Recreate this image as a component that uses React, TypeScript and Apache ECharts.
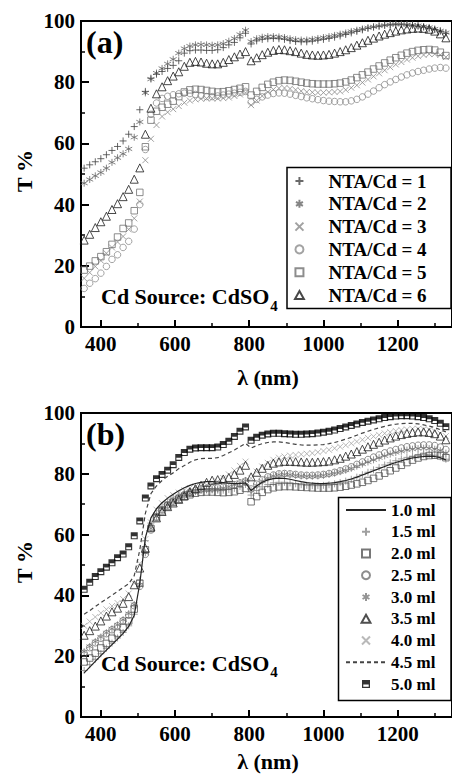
import React, { useEffect, useRef } from "react";
import * as echarts from "echarts";

// Wavelength sampling (nm); the detector change at ~800 nm gives the jump
const WAVELENGTH = [
  355, 370, 385, 400, 415, 430, 445, 460, 475, 490, 505, 520, 535, 550, 565, 580, 595, 610, 625, 640,
  655, 670, 685, 700, 715, 730, 745, 760, 775, 790,
  805, 820, 835, 850, 865, 880, 895, 910, 925, 940, 955, 970, 985, 1000, 1015, 1030, 1045, 1060, 1075, 1090,
  1105, 1120, 1135, 1150, 1165, 1180, 1195, 1210, 1225, 1240, 1255, 1270, 1285, 1300, 1315, 1330,
];

const X_MAJOR = [400, 600, 800, 1000, 1200];
const X_MINOR = [500, 700, 900, 1100, 1300];

// ---- Panel (a): NTA/Cd ratio ----
const NTA_1 = [
  51.9, 53, 54, 55, 56.3, 57.7, 59, 60.8, 63, 65.5, 71, 77, 81.3, 82.6, 83.5, 84.5, 85.5, 87, 89.5, 90.3,
  90.5, 90.5, 90.4, 90.4, 90.6, 91.3, 92.2, 93, 94.5, 96,
  92.5, 93.5, 94, 94.2, 94.3, 94.2, 94, 93.6, 93.3, 93.2, 93.2, 93.4, 93.7, 94, 94.3, 94.7, 95.1, 95.6, 96.1, 96.6,
  97.1, 97.6, 98, 98.3, 98.6, 98.8, 98.9, 98.9, 98.8, 98.6, 98.3, 98, 97.6, 97.2, 96.7, 96,
];
const NTA_2 = [
  47, 48.2, 49.4, 50.5, 51.9, 53.8, 55.3, 56.6, 58.2, 62, 67, 76.5, 81, 83, 84.5, 86, 87.5, 89.5, 91, 91.8,
  92.2, 92.3, 92.2, 92.1, 92.2, 92.6, 93.4, 94.3, 95.6, 97,
  93.3, 94.2, 94.7, 94.9, 94.9, 94.8, 94.6, 94.2, 93.9, 93.8, 93.8, 94, 94.3, 94.6, 94.9, 95.3, 95.7, 96.1, 96.6, 97,
  97.4, 97.8, 98.1, 98.4, 98.6, 98.8, 98.9, 98.9, 98.8, 98.7, 98.5, 98.2, 97.9, 97.4, 96.8, 96.2,
];
const NTA_3 = [
  15.9, 17.8, 19.8, 21.7, 24.1, 26, 27.8, 29.6, 31.9, 35.5, 41, 54.5, 61.5, 66, 68.8, 70.2, 71.2, 72.2, 73.3, 74,
  74.4, 74.6, 74.7, 74.7, 74.7, 74.8, 75, 75.5, 76, 76.5,
  72.5, 74, 75.5, 76.8, 77.6, 78, 78.1, 77.9, 77.5, 77.1, 76.8, 76.7, 76.6, 76.6, 76.7, 76.8, 77, 77.5, 78.2, 79,
  79.9, 80.9, 81.9, 82.9, 83.9, 84.9, 85.8, 86.6, 87.4, 88, 88.5, 88.9, 89.2, 89.2, 88.9, 88.2,
];
const NTA_4 = [
  12.6, 14.3, 15.8, 17.6, 19.8, 22.1, 23.6, 26, 28, 32, 40, 58, 69.5, 73.2, 74.7, 75.4, 75.9, 76.2, 76.4, 76.3,
  76, 75.6, 75.3, 75.3, 75.5, 75.8, 76.1, 76.4, 76.7, 77,
  73.5, 74.4, 75.2, 75.8, 76.3, 76.5, 76.4, 76.1, 75.7, 75.3, 74.9, 74.6, 74.3, 74, 73.8, 73.7, 73.6, 73.6, 73.9, 74.4,
  75.2, 76.1, 77.1, 78.2, 79.2, 80.1, 80.9, 81.7, 82.4, 83, 83.5, 83.9, 84.3, 84.6, 84.8, 84.6,
];
const NTA_5 = [
  18.6, 19.9, 21.6, 23, 24.6, 27, 29.4, 32.2, 34, 38, 44, 58.9, 67.6, 70.5, 71.8, 72.8, 73.8, 75.3, 76.8, 77.5,
  77.7, 77.6, 77.3, 77, 76.8, 76.9, 77.2, 77.6, 78, 78.5,
  75.8, 77, 78.3, 79.3, 80, 80.5, 80.7, 80.6, 80.3, 80, 79.7, 79.5, 79.4, 79.4, 79.4, 79.5, 79.7, 80.1, 80.7, 81.5,
  82.4, 83.3, 84.3, 85.3, 86.3, 87.2, 88, 88.8, 89.5, 90, 90.4, 90.6, 90.7, 90.5, 89.8, 88.7,
];
const NTA_6 = [
  28.4, 30.3, 32.5, 34.4, 36.2, 38.4, 40.3, 42.6, 45, 48.3, 52, 63, 71.5, 76.2, 78.5, 80.5, 82, 83.4, 85.2, 86.5,
  86.8, 86.6, 86.2, 86, 86, 86.5, 87.4, 88.3, 89.2, 90,
  87, 88, 89, 89.8, 90.4, 90.7, 90.6, 90.3, 90, 89.5, 89.1, 88.9, 88.8, 88.9, 89.1, 89.5, 90, 90.6, 91.3, 92.1,
  92.9, 93.7, 94.4, 95.1, 95.7, 96.2, 96.7, 97.1, 97.4, 97.6, 97.7, 97.6, 97.3, 96.7, 95.8, 94.5,
];

// ---- Panel (b): volume ----
const ML_10 = [
  14.5, 16.4, 18.3, 20.2, 22, 23.8, 25.6, 27.5, 29.8, 33.5, 44, 59, 65.5, 68.5, 70.5, 72, 73.3, 74.4, 75.4, 76.2,
  76.8, 77.2, 77.4, 77.4, 77.3, 77.1, 76.9, 76.8, 76.8, 77,
  74.5, 76, 77.2, 78, 78.4, 78.6, 78.5, 78.2, 77.8, 77.4, 77.1, 76.9, 76.8, 76.8, 76.9, 77.1, 77.4, 77.8, 78.3, 78.9,
  79.6, 80.3, 81, 81.7, 82.4, 83.1, 83.7, 84.3, 84.8, 85.2, 85.5, 85.7, 85.8, 85.7, 85.3, 84.6,
];
const ML_15 = [
  15.3, 17.2, 19, 20.8, 22.6, 24.3, 26, 27.8, 30, 33.8, 45, 58, 63.8, 67, 69.2, 70.8, 72, 73, 73.8, 74.4,
  74.7, 74.8, 74.8, 74.7, 74.6, 74.6, 74.8, 75.2, 75.8, 76.5,
  73, 74.5, 75.7, 76.5, 77, 77.2, 77.2, 77, 76.7, 76.4, 76.2, 76.1, 76.1, 76.2, 76.4, 76.7, 77.1, 77.6, 78.2, 78.9,
  79.7, 80.5, 81.3, 82.1, 82.9, 83.6, 84.3, 84.9, 85.4, 85.8, 86.1, 86.3, 86.3, 86.1, 85.6, 84.8,
];
const ML_20 = [
  18.1, 19.4, 21, 22.7, 24.2, 25.9, 27.6, 29.4, 31.6, 35.5, 44, 55, 62, 65.6, 67.8, 69.4, 70.6, 71.6, 72.4, 73.1,
  73.6, 73.9, 74, 74, 73.9, 73.8, 73.9, 74.1, 74.6, 75.2,
  70.8, 72.5, 73.9, 74.8, 75.4, 75.7, 75.8, 75.8, 75.7, 75.6, 75.5, 75.4, 75.3, 75.3, 75.3, 75.4, 75.6, 75.9, 76.3, 76.7,
  77.2, 77.8, 78.5, 79.3, 80.2, 81, 81.9, 82.8, 83.7, 84.5, 85.2, 85.7, 86, 86.1, 85.9, 85.3,
];
const ML_25 = [
  21, 22.8, 24.4, 25.9, 27.4, 28.7, 30, 31.7, 33.5, 36.6, 43, 53.5, 61.5, 65.8, 68.2, 69.8, 71, 72.1, 73.1, 74,
  74.6, 75, 75.2, 75.3, 75.4, 75.6, 75.9, 76.4, 77, 77.6,
  75, 76.6, 78, 79, 79.6, 80, 80.1, 80, 79.8, 79.6, 79.5, 79.5, 79.6, 79.8, 80.1, 80.5, 81, 81.6, 82.3, 83.1,
  83.9, 84.7, 85.5, 86.2, 86.9, 87.5, 88, 88.5, 88.9, 89.2, 89.4, 89.5, 89.5, 89.3, 88.8, 88,
];
const ML_30 = [
  21.5, 23.2, 24.8, 26.3, 27.7, 29, 30.3, 32, 34, 37, 43.5, 54, 62, 66, 68.3, 69.7, 70.8, 71.8, 72.7, 73.5,
  74.1, 74.5, 74.7, 74.8, 75, 75.3, 75.8, 76.4, 77.1, 77.8,
  74.5, 76.2, 77.6, 78.6, 79.3, 79.7, 79.8, 79.7, 79.5, 79.3, 79.2, 79.2, 79.3, 79.5, 79.8, 80.2, 80.7, 81.2, 81.8, 82.5,
  83.2, 83.9, 84.6, 85.3, 85.9, 86.5, 87, 87.4, 87.8, 88.1, 88.3, 88.4, 88.3, 88.1, 87.6, 86.8,
];
const ML_35 = [
  26.9, 28.4, 29.9, 31.6, 33.2, 34.6, 35.8, 37.4, 39.6, 43.5, 49, 55.5, 62.5, 65.5, 67.6, 69.2, 70.4, 71.6, 72.8, 74,
  75.1, 76.2, 77.2, 77.9, 78.1, 78.3, 78.8, 79.8, 81.2, 82.8,
  79, 80.5, 81.8, 82.8, 83.5, 83.9, 84.1, 84.1, 84, 83.9, 83.8, 83.8, 83.9, 84, 84.2, 84.6, 85.1, 85.8, 86.5, 87.3,
  88.1, 88.9, 89.7, 90.4, 91.1, 91.8, 92.4, 92.9, 93.3, 93.6, 93.8, 93.8, 93.6, 93.2, 92.4, 91.2,
];
const ML_40 = [
  30, 31.4, 32.9, 34.2, 35.4, 36.5, 37.5, 38.8, 40.6, 44, 50.5, 58.5, 64, 68.2, 70.3, 72, 73, 73.8, 74.6, 75.3,
  75.8, 76.1, 76.3, 76.7, 77.5, 78.6, 79.8, 81.1, 82.6, 84,
  78.5, 80.7, 82.4, 83.6, 84.6, 85.3, 85.7, 86, 86.2, 86.4, 86.6, 86.8, 87.1, 87.5, 87.9, 88.4, 88.9, 89.4, 90, 90.6,
  91.2, 91.8, 92.3, 92.8, 93.3, 93.7, 94.1, 94.4, 94.6, 94.8, 94.8, 94.7, 94.5, 94, 93.3, 92.4,
];
const ML_45 = [
  33.8, 35, 36.3, 37.6, 38.8, 40.1, 41.3, 42.6, 43.8, 46.5, 55, 67, 73.5, 76, 77.8, 79.2, 80.3, 81.7, 82.7, 83.8,
  84.6, 85, 85.1, 85.1, 85.3, 86, 86.9, 87.8, 88.9, 90,
  88.5, 89.3, 89.9, 90.3, 90.5, 90.5, 90.3, 90, 89.7, 89.5, 89.4, 89.4, 89.5, 89.6, 89.9, 90.3, 90.8, 91.4, 92, 92.7,
  93.4, 94, 94.6, 95.1, 95.6, 96, 96.3, 96.5, 96.6, 96.6, 96.4, 96.1, 95.7, 95.2, 94.5, 93.8,
];
const ML_50 = [
  42, 44.3, 46.2, 47.8, 49.3, 50.7, 52.4, 53.6, 56, 59.6, 64.5, 72, 76, 78.4, 79.8, 81.2, 83, 85.4, 87, 88.1,
  88.5, 88.6, 88.6, 88.6, 88.8, 89.6, 90.7, 92.3, 94, 95.4,
  91, 92, 92.7, 93.1, 93.3, 93.3, 93.2, 93.1, 93, 93, 93.1, 93.2, 93.4, 93.7, 94, 94.4, 94.9, 95.4, 95.9, 96.4,
  96.9, 97.3, 97.7, 98.1, 98.5, 98.8, 99, 99.1, 99.1, 99, 98.8, 98.5, 98.1, 97.5, 96.6, 95.5,
];

const NAMES_A = ["NTA/Cd = 1", "NTA/Cd = 2", "NTA/Cd = 3", "NTA/Cd = 4", "NTA/Cd = 5", "NTA/Cd = 6"];
const NAMES_B = ["1.0 ml", "1.5 ml", "2.0 ml", "2.5 ml", "3.0 ml", "3.5 ml", "4.0 ml", "4.5 ml", "5.0 ml"];

const FONT = "Liberation Serif, Times New Roman, serif";

const PLUS = "path://M5,0L5,10M0,5L10,5";
const CROSS = "path://M0,0L10,10M0,10L10,0";
const STAR = "path://M5,0L5,10M0.67,2.5L9.33,7.5M0.67,7.5L9.33,2.5";
const SQUARE = "path://M0,0L10,0L10,10L0,10Z";
const TRIANGLE = "path://M5,0L10,9L0,9Z";
const HALF = "path://M0,0L10,0L10,10L0,10Z M1.6,5.6L1.6,8.4L8.4,8.4L8.4,5.6Z";

function pairs(values: number[]) {
  return WAVELENGTH.map((x, i) => [x, values[i]]);
}

function scatter(name: string, values: number[], panel: number, symbol: string, size: number, color: string, filled = false) {
  return {
    type: "scatter",
    name,
    xAxisIndex: panel * 2,
    yAxisIndex: panel,
    data: pairs(values),
    symbol,
    symbolSize: size,
    itemStyle: filled
      ? { color, borderWidth: 0 }
      : { color: "transparent", borderColor: color, borderWidth: 1 },
    emphasis: { disabled: true },
  };
}

function line(name: string, values: number[], panel: number, color: string, dashed: boolean) {
  return {
    type: "line",
    name,
    xAxisIndex: panel * 2,
    yAxisIndex: panel,
    data: pairs(values),
    symbol: "none",
    lineStyle: { color, width: 1.2, type: dashed ? [4, 3] : "solid" },
    itemStyle: { color: "transparent", borderWidth: 0 },
    emphasis: { disabled: true },
  };
}

function xAxes(grid: number) {
  const common = { gridIndex: grid, type: "value", min: 346.5, max: 1346.5, splitLine: { show: false } };
  return [
    {
      ...common,
      position: "bottom",
      axisLine: { show: true, onZero: false, lineStyle: { color: "#000", width: 2 } },
      axisTick: { show: true, inside: true, length: 7, customValues: X_MAJOR, lineStyle: { color: "#000", width: 2 } },
      axisLabel: {
        customValues: X_MAJOR,
        formatter: (v: number) => String(v),
        margin: 6,
        color: "#000",
        fontFamily: FONT,
        fontWeight: "bold",
        fontSize: 21,
      },
    },
    {
      ...common,
      position: "bottom",
      axisLine: { show: false, onZero: false },
      axisTick: { show: true, inside: true, length: 4, customValues: X_MINOR, lineStyle: { color: "#000", width: 1.5 } },
      axisLabel: { show: false },
    },
  ];
}

function yAxis(grid: number) {
  return {
    gridIndex: grid,
    type: "value",
    min: 0,
    max: 100,
    interval: 20,
    splitLine: { show: false },
    axisLine: { show: true, onZero: false, lineStyle: { color: "#000", width: 2 } },
    axisTick: { show: true, inside: true, length: 8, lineStyle: { color: "#000", width: 2 } },
    minorTick: { show: true, splitNumber: 2, length: 4, lineStyle: { color: "#000", width: 1.5 } },
    axisLabel: { margin: 6, color: "#000", fontFamily: FONT, fontWeight: "bold", fontSize: 21 },
  };
}

function measure(text: string, font: string) {
  const c = document.createElement("canvas").getContext("2d");
  if (!c) return text.length * 11;
  c.font = font;
  return c.measureText(text).width;
}

function buildOption() {
  const cdFont = `bold 22px ${FONT}`;
  const cdW = measure("Cd Source: CdSO", cdFont);
  const text = (t: string, x: number, y: number, size: number, align = "left") => ({
    type: "text",
    x,
    y,
    z: 20,
    style: {
      text: t,
      fontFamily: FONT,
      fontWeight: "bold",
      fontSize: size,
      fill: "#000",
      align,
      verticalAlign: "middle",
    },
  });
  const panels = [
    { top: 21, height: 306, label: "(a)" },
    { top: 413, height: 304, label: "(b)" },
  ];
  const graphics: any[] = [];
  panels.forEach((p, i) => {
    const bottom = p.top + p.height;
    graphics.push(text(p.label, 86, p.top + 21, 32));
    graphics.push({ ...text("T %", 24, p.top + p.height / 2 - 3, 22, "center"), rotation: Math.PI / 2 });
    graphics.push(text("λ (nm)", 268, i === 0 ? bottom + 50 : 761, 22, "center"));
    const cdY = i === 0 ? 296.5 : 663;
    graphics.push(text("Cd Source: CdSO", 101, cdY, 22));
    graphics.push(text("4", 101 + cdW + 1, cdY + 9, 15));
  });
  graphics.push({ type: "rect", z: 5, shape: { x: 287, y: 167.5, width: 164, height: 141 }, style: { fill: "none", stroke: "#000", lineWidth: 1.5 } });
  graphics.push({ type: "rect", z: 5, shape: { x: 338.5, y: 497.5, width: 112.5, height: 203 }, style: { fill: "none", stroke: "#000", lineWidth: 1.5 } });

  const legendB = NAMES_B.map((n) =>
    n === "1.0 ml" || n === "4.5 ml" ? { name: n, itemStyle: { opacity: 0 } } : { name: n }
  );

  return {
    animation: false,
    backgroundColor: "#fff",
    grid: panels.map((p) => ({
      left: 81,
      top: p.top,
      width: 375,
      height: p.height,
      show: true,
      borderColor: "#000",
      borderWidth: 2,
      backgroundColor: "transparent",
    })),
    xAxis: [...xAxes(0), ...xAxes(1)],
    yAxis: [yAxis(0), yAxis(1)],
    legend: [
      {
        data: NAMES_A,
        orient: "vertical",
        left: 294,
        top: 171,
        padding: 0,
        itemWidth: 48,
        itemHeight: 8,
        itemGap: 2.8,
        selectedMode: false,
        symbolKeepAspect: true,
        textStyle: { fontFamily: FONT, fontWeight: "bold", fontSize: 19, lineHeight: 20, color: "#000" },
      },
      {
        data: legendB,
        orient: "vertical",
        left: 345,
        top: 501,
        padding: 0,
        itemWidth: 40,
        itemHeight: 8,
        itemGap: 3.75,
        selectedMode: false,
        symbolKeepAspect: true,
        textStyle: { fontFamily: FONT, fontWeight: "bold", fontSize: 17, lineHeight: 18, color: "#000" },
      },
    ],
    graphic: { elements: graphics },
    series: [
      scatter(NAMES_A[3], NTA_4, 0, "circle", 6.5, "#8c8c8c"),
      scatter(NAMES_A[2], NTA_3, 0, CROSS, 6, "#8a8a8a"),
      scatter(NAMES_A[4], NTA_5, 0, SQUARE, 6.5, "#707070"),
      scatter(NAMES_A[1], NTA_2, 0, STAR, 7, "#666"),
      scatter(NAMES_A[0], NTA_1, 0, PLUS, 7, "#444"),
      scatter(NAMES_A[5], NTA_6, 0, TRIANGLE, 8, "#1a1a1a"),

      scatter(NAMES_B[6], ML_40, 1, CROSS, 6, "#a8a8a8"),
      scatter(NAMES_B[1], ML_15, 1, PLUS, 7, "#888"),
      scatter(NAMES_B[4], ML_30, 1, STAR, 7, "#7a7a7a"),
      scatter(NAMES_B[3], ML_25, 1, "circle", 6.5, "#707070"),
      scatter(NAMES_B[2], ML_20, 1, SQUARE, 6.5, "#555"),
      line(NAMES_B[0], ML_10, 1, "#222", false),
      line(NAMES_B[7], ML_45, 1, "#444", true),
      scatter(NAMES_B[5], ML_35, 1, TRIANGLE, 8, "#222"),
      scatter(NAMES_B[8], ML_50, 1, HALF, 7, "#000", true),
    ],
  };
}

export default function App() {
  const ref = useRef<HTMLDivElement>(null);
  useEffect(() => {
    document.body.style.margin = "0";
    if (!ref.current) return;
    const chart = echarts.init(ref.current, null, { renderer: "svg" });
    chart.setOption(buildOption() as any);
    return () => chart.dispose();
  }, []);
  return <div ref={ref} style={{ width: 452, height: 775, overflow: "hidden" }} />;
}
